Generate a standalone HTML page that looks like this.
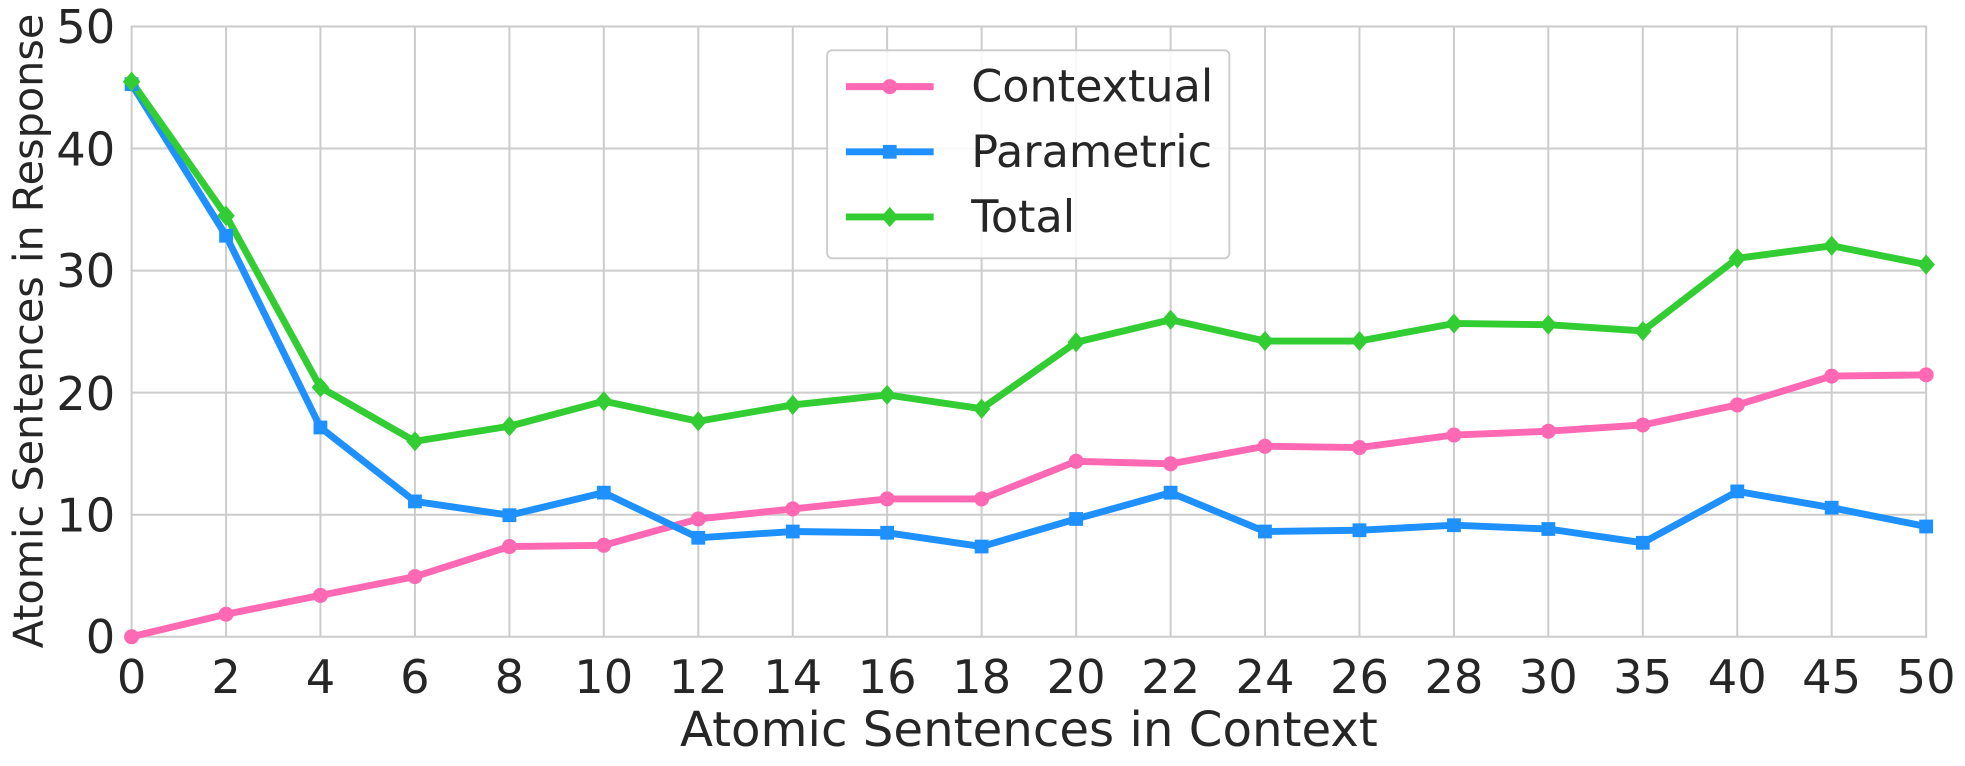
<!DOCTYPE html>
<html><head><meta charset="utf-8"><style>html,body{margin:0;padding:0;background:#fff}svg{display:block}</style></head>
<body>
<svg width="1965" height="766" viewBox="0 0 1568 611" xmlns="http://www.w3.org/2000/svg" font-family="'DejaVu Sans','Liberation Sans',sans-serif" fill="#262626">
<rect width="1568" height="611" fill="#fff"/>
<g stroke="#cccccc" stroke-width="1.6">
<line x1="105" y1="21" x2="1537" y2="21"/><line x1="105" y1="118.4" x2="1537" y2="118.4"/><line x1="105" y1="215.8" x2="1537" y2="215.8"/><line x1="105" y1="313.2" x2="1537" y2="313.2"/><line x1="105" y1="410.6" x2="1537" y2="410.6"/>
<line x1="180.4" y1="21" x2="180.4" y2="508"/><line x1="255.7" y1="21" x2="255.7" y2="508"/><line x1="331.1" y1="21" x2="331.1" y2="508"/><line x1="406.5" y1="21" x2="406.5" y2="508"/><line x1="481.8" y1="21" x2="481.8" y2="508"/><line x1="557.2" y1="21" x2="557.2" y2="508"/><line x1="632.6" y1="21" x2="632.6" y2="508"/><line x1="707.9" y1="21" x2="707.9" y2="508"/><line x1="783.3" y1="21" x2="783.3" y2="508"/><line x1="858.7" y1="21" x2="858.7" y2="508"/><line x1="934.1" y1="21" x2="934.1" y2="508"/><line x1="1009.4" y1="21" x2="1009.4" y2="508"/><line x1="1084.8" y1="21" x2="1084.8" y2="508"/><line x1="1160.2" y1="21" x2="1160.2" y2="508"/><line x1="1235.5" y1="21" x2="1235.5" y2="508"/><line x1="1310.9" y1="21" x2="1310.9" y2="508"/><line x1="1386.3" y1="21" x2="1386.3" y2="508"/><line x1="1461.6" y1="21" x2="1461.6" y2="508"/>
<rect x="105" y="21" width="1432" height="487" fill="none"/>
</g>
<g font-size="37" text-anchor="end">
<text x="92" y="521">0</text><text x="92" y="424">10</text><text x="92" y="327">20</text><text x="92" y="229">30</text><text x="92" y="132">40</text><text x="92" y="34">50</text>
</g>
<g font-size="37" text-anchor="middle">
<text x="105" y="553">0</text><text x="180.4" y="553">2</text><text x="255.7" y="553">4</text><text x="331.1" y="553">6</text><text x="406.5" y="553">8</text><text x="481.8" y="553">10</text><text x="557.2" y="553">12</text><text x="632.6" y="553">14</text><text x="707.9" y="553">16</text><text x="783.3" y="553">18</text><text x="858.7" y="553">20</text><text x="934.1" y="553">22</text><text x="1009.4" y="553">24</text><text x="1084.8" y="553">26</text><text x="1160.2" y="553">28</text><text x="1235.5" y="553">30</text><text x="1310.9" y="553">35</text><text x="1386.3" y="553">40</text><text x="1461.6" y="553">45</text><text x="1537" y="553">50</text>
<text x="821" y="595" font-size="38.5">Atomic Sentences in Context</text>
<text transform="translate(34,264) rotate(-90)" font-size="33">Atomic Sentences in Response</text>
</g>
<g fill="none" stroke-width="5.5" stroke-linejoin="round">
<polyline stroke="#ff69b4" points="105,508 180.4,490 255.7,475 331.1,460 406.5,436 481.8,435 557.2,414 632.6,406 707.9,398 783.3,398 858.7,368 934.1,370 1009.4,356 1084.8,357 1160.2,347 1235.5,344 1310.9,339 1386.3,323 1461.6,300 1537,299"/>
<polyline stroke="#1e90ff" points="105,67 180.4,188 255.7,341 331.1,400 406.5,411 481.8,393 557.2,429 632.6,424 707.9,425 783.3,436 858.7,414 934.1,393 1009.4,424 1084.8,423 1160.2,419 1235.5,422 1310.9,433 1386.3,392 1461.6,405 1537,420"/>
<polyline stroke="#32cd32" points="105,65 180.4,172 255.7,309 331.1,352 406.5,340 481.8,320 557.2,336 632.6,323 707.9,315 783.3,326 858.7,273 934.1,255 1009.4,272 1084.8,272 1160.2,258 1235.5,259 1310.9,264 1386.3,206 1461.6,196 1537,211"/>
</g>
<g fill="#ff69b4">
<circle cx="105" cy="508" r="6"/><circle cx="180.4" cy="490" r="6"/><circle cx="255.7" cy="475" r="6"/><circle cx="331.1" cy="460" r="6"/><circle cx="406.5" cy="436" r="6"/><circle cx="481.8" cy="435" r="6"/><circle cx="557.2" cy="414" r="6"/><circle cx="632.6" cy="406" r="6"/><circle cx="707.9" cy="398" r="6"/><circle cx="783.3" cy="398" r="6"/><circle cx="858.7" cy="368" r="6"/><circle cx="934.1" cy="370" r="6"/><circle cx="1009.4" cy="356" r="6"/><circle cx="1084.8" cy="357" r="6"/><circle cx="1160.2" cy="347" r="6"/><circle cx="1235.5" cy="344" r="6"/><circle cx="1310.9" cy="339" r="6"/><circle cx="1386.3" cy="323" r="6"/><circle cx="1461.6" cy="300" r="6"/><circle cx="1537" cy="299" r="6"/>
</g>
<g fill="#1e90ff">
<rect x="99.5" y="61.5" width="11" height="11"/><rect x="174.9" y="182.5" width="11" height="11"/><rect x="250.2" y="335.5" width="11" height="11"/><rect x="325.6" y="394.5" width="11" height="11"/><rect x="401" y="405.5" width="11" height="11"/><rect x="476.3" y="387.5" width="11" height="11"/><rect x="551.7" y="423.5" width="11" height="11"/><rect x="627.1" y="418.5" width="11" height="11"/><rect x="702.4" y="419.5" width="11" height="11"/><rect x="777.8" y="430.5" width="11" height="11"/><rect x="853.2" y="408.5" width="11" height="11"/><rect x="928.6" y="387.5" width="11" height="11"/><rect x="1003.9" y="418.5" width="11" height="11"/><rect x="1079.3" y="417.5" width="11" height="11"/><rect x="1154.7" y="413.5" width="11" height="11"/><rect x="1230" y="416.5" width="11" height="11"/><rect x="1305.4" y="427.5" width="11" height="11"/><rect x="1380.8" y="386.5" width="11" height="11"/><rect x="1456.1" y="399.5" width="11" height="11"/><rect x="1531.5" y="414.5" width="11" height="11"/>
</g>
<g fill="#32cd32">
<path d="M0,-8 L7,0 L0,8 L-7,0Z" transform="translate(105,65)"/>
<path d="M0,-8 L7,0 L0,8 L-7,0Z" transform="translate(180.4,172)"/><path d="M0,-8 L7,0 L0,8 L-7,0Z" transform="translate(255.7,309)"/><path d="M0,-8 L7,0 L0,8 L-7,0Z" transform="translate(331.1,352)"/><path d="M0,-8 L7,0 L0,8 L-7,0Z" transform="translate(406.5,340)"/><path d="M0,-8 L7,0 L0,8 L-7,0Z" transform="translate(481.8,320)"/><path d="M0,-8 L7,0 L0,8 L-7,0Z" transform="translate(557.2,336)"/><path d="M0,-8 L7,0 L0,8 L-7,0Z" transform="translate(632.6,323)"/><path d="M0,-8 L7,0 L0,8 L-7,0Z" transform="translate(707.9,315)"/><path d="M0,-8 L7,0 L0,8 L-7,0Z" transform="translate(783.3,326)"/><path d="M0,-8 L7,0 L0,8 L-7,0Z" transform="translate(858.7,273)"/><path d="M0,-8 L7,0 L0,8 L-7,0Z" transform="translate(934.1,255)"/><path d="M0,-8 L7,0 L0,8 L-7,0Z" transform="translate(1009.4,272)"/><path d="M0,-8 L7,0 L0,8 L-7,0Z" transform="translate(1084.8,272)"/><path d="M0,-8 L7,0 L0,8 L-7,0Z" transform="translate(1160.2,258)"/><path d="M0,-8 L7,0 L0,8 L-7,0Z" transform="translate(1235.5,259)"/><path d="M0,-8 L7,0 L0,8 L-7,0Z" transform="translate(1310.9,264)"/><path d="M0,-8 L7,0 L0,8 L-7,0Z" transform="translate(1386.3,206)"/><path d="M0,-8 L7,0 L0,8 L-7,0Z" transform="translate(1461.6,196)"/><path d="M0,-8 L7,0 L0,8 L-7,0Z" transform="translate(1537,211)"/>
</g>
<rect x="660" y="40" width="321" height="166" rx="4" fill="#fff" fill-opacity="0.85" stroke="#cccccc" stroke-width="1.5"/>
<g stroke-width="5.5">
<line x1="675" y1="69" x2="745" y2="69" stroke="#ff69b4"/><line x1="675" y1="121" x2="745" y2="121" stroke="#1e90ff"/><line x1="675" y1="173" x2="745" y2="173" stroke="#32cd32"/>
</g>
<circle cx="710" cy="69" r="6" fill="#ff69b4"/>
<rect x="704.5" y="115.5" width="11" height="11" fill="#1e90ff"/>
<path d="M710,165 L717,173 L710,181 L703,173Z" fill="#32cd32"/>
<g font-size="35.5">
<text x="775" y="81">Contextual</text><text x="775" y="133">Parametric</text><text x="775" y="185">Total</text>
</g>
</svg>
</body></html>
